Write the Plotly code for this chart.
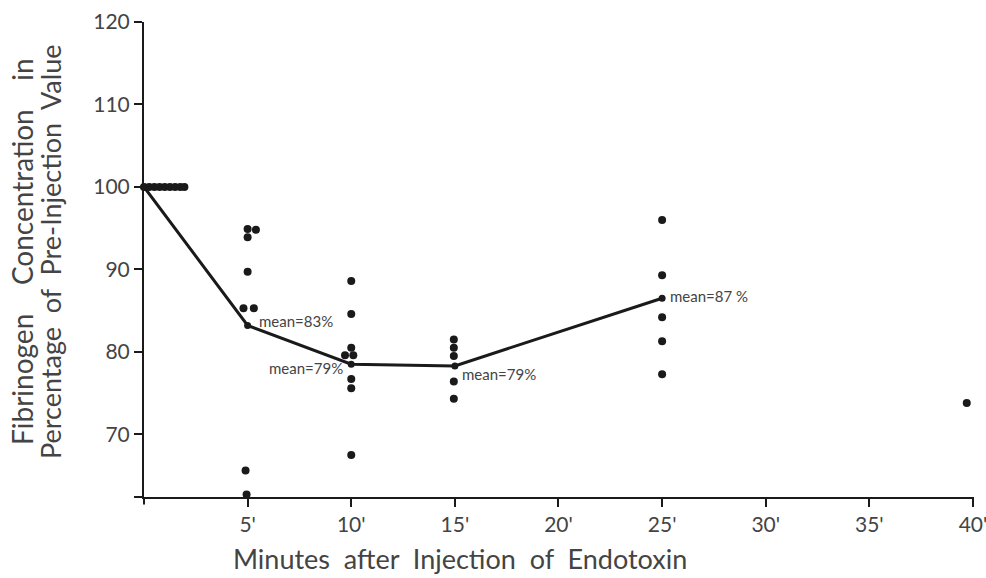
import plotly.graph_objects as go

# ---- data ----
base_x = [0, 0.25, 0.5, 0.75, 1.0, 1.25, 1.5, 1.75, 1.95]
base_y = [100, 100, 100, 100, 100, 100, 100, 100, 100]

min5_x = [5.0, 5.4, 5.0, 5.0, 4.8, 5.3, 4.9, 4.95]
min5_y = [94.9, 94.8, 93.9, 89.7, 85.3, 85.3, 65.6, 62.7]

min10_x = [10.0, 10.0, 10.0, 9.7, 10.1, 10.0, 10.0, 10.0]
min10_y = [88.6, 84.6, 80.5, 79.6, 79.6, 76.7, 75.6, 67.5]

min15_x = [14.95, 14.95, 14.95, 14.95, 14.95]
min15_y = [81.5, 80.5, 79.5, 76.4, 74.3]

min25_x = [25.0, 25.0, 25.0, 25.0, 25.0]
min25_y = [96.0, 89.3, 84.2, 81.3, 77.3]

min40_x = [39.7]
min40_y = [73.8]

mean_x = [0, 5, 10, 15, 25]
mean_y = [100, 83.2, 78.5, 78.3, 86.5]
mean_labels = ["", "mean=83%", "mean=79%", "mean=79%", "mean=87 %"]

xtick_vals = [5, 10, 15, 20, 25, 30, 35, 40]
xtick_text = ["5'", "10'", "15'", "20'", "25'", "30'", "35'", "40'"]
ytick_vals = [70, 80, 90, 100, 110, 120]
ytick_text = ["70", "80", "90", "100", "110", "120"]

# ---- style ----
FONT = "Lato"
TXT = "#444444"
INK = "#1a1a1a"

dots_x = base_x + min5_x + min10_x + min15_x + min25_x + min40_x
dots_y = base_y + min5_y + min10_y + min15_y + min25_y + min40_y

fig = go.Figure()
fig.add_trace(go.Scatter(
    x=mean_x, y=mean_y, mode="lines+markers",
    line=dict(color=INK, width=3),
    marker=dict(color=INK, size=7),
    hoverinfo="skip", cliponaxis=False, showlegend=False))
fig.add_trace(go.Scatter(
    x=dots_x, y=dots_y, mode="markers",
    marker=dict(color=INK, size=8),
    cliponaxis=False, showlegend=False))

# mean labels: (xshift, yshift, anchor) per mean point index
label_style = {
    1: (9, 4, "left"),
    2: (-6, -4, "right"),
    3: (5, -8, "left"),
    4: (6, 2, "left"),
}
for i, (x, y, t) in enumerate(zip(mean_x, mean_y, mean_labels)):
    if not t:
        continue
    xs, ys, anc = label_style[i]
    fig.add_annotation(x=x, y=y, text=t, showarrow=False, xanchor=anc,
                       yanchor="middle", xshift=xs, yshift=ys,
                       font=dict(family=FONT, size=15, color=TXT))

# axis titles
fig.add_annotation(
    xref="paper", yref="paper", x=(460 - 144) / 830, y=-(558 - 497) / 475,
    text="Minutes\u00a0 after\u00a0 Injection\u00a0 of\u00a0 Endotoxin",
    showarrow=False, xanchor="center", yanchor="middle",
    font=dict(family=FONT, size=27, color=TXT))
fig.add_annotation(
    xref="paper", yref="paper", x=-(144 - 22) / 830, y=(497 - 252) / 475,
    text="Fibrinogen\u00a0\u00a0\u00a0 Concentration\u00a0\u00a0\u00a0 in",
    showarrow=False, textangle=-90, xanchor="center", yanchor="middle",
    font=dict(family=FONT, size=28, color=TXT))
fig.add_annotation(
    xref="paper", yref="paper", x=-(144 - 51) / 830, y=(497 - 252) / 475,
    text="Percentage\u00a0 of\u00a0 Pre-Injection\u00a0 Value",
    showarrow=False, textangle=-90, xanchor="center", yanchor="middle",
    font=dict(family=FONT, size=27, color=TXT))

# small axis extensions past the corner
fig.add_shape(type="line", xref="paper", yref="paper", x0=-0.012, x1=0, y0=0, y1=0,
              line=dict(color=INK, width=2))
fig.add_shape(type="line", xref="paper", yref="paper", x0=0, x1=0, y0=-0.016, y1=0,
              line=dict(color=INK, width=2))

fig.update_layout(
    width=986, height=578,
    margin=dict(l=144, r=12, t=22, b=81),
    paper_bgcolor="white", plot_bgcolor="white",
    font=dict(family=FONT, color=TXT),
    xaxis=dict(range=[0, 40.05], tickvals=xtick_vals, ticktext=xtick_text,
               showline=True, linecolor=INK, linewidth=2,
               ticks="outside", ticklen=8, tickwidth=1.5, tickcolor=INK,
               ticklabeloverflow="allow", automargin=False,
               showgrid=False, zeroline=False,
               tickfont=dict(family=FONT, size=21, color=TXT)),
    yaxis=dict(range=[62.4, 120], tickvals=ytick_vals, ticktext=ytick_text,
               showline=True, linecolor=INK, linewidth=2,
               ticks="outside", ticklen=8, tickwidth=1.5, tickcolor=INK,
               automargin=False,
               showgrid=False, zeroline=False,
               tickfont=dict(family=FONT, size=21, color=TXT)),
)

fig.write_html("out.html")
